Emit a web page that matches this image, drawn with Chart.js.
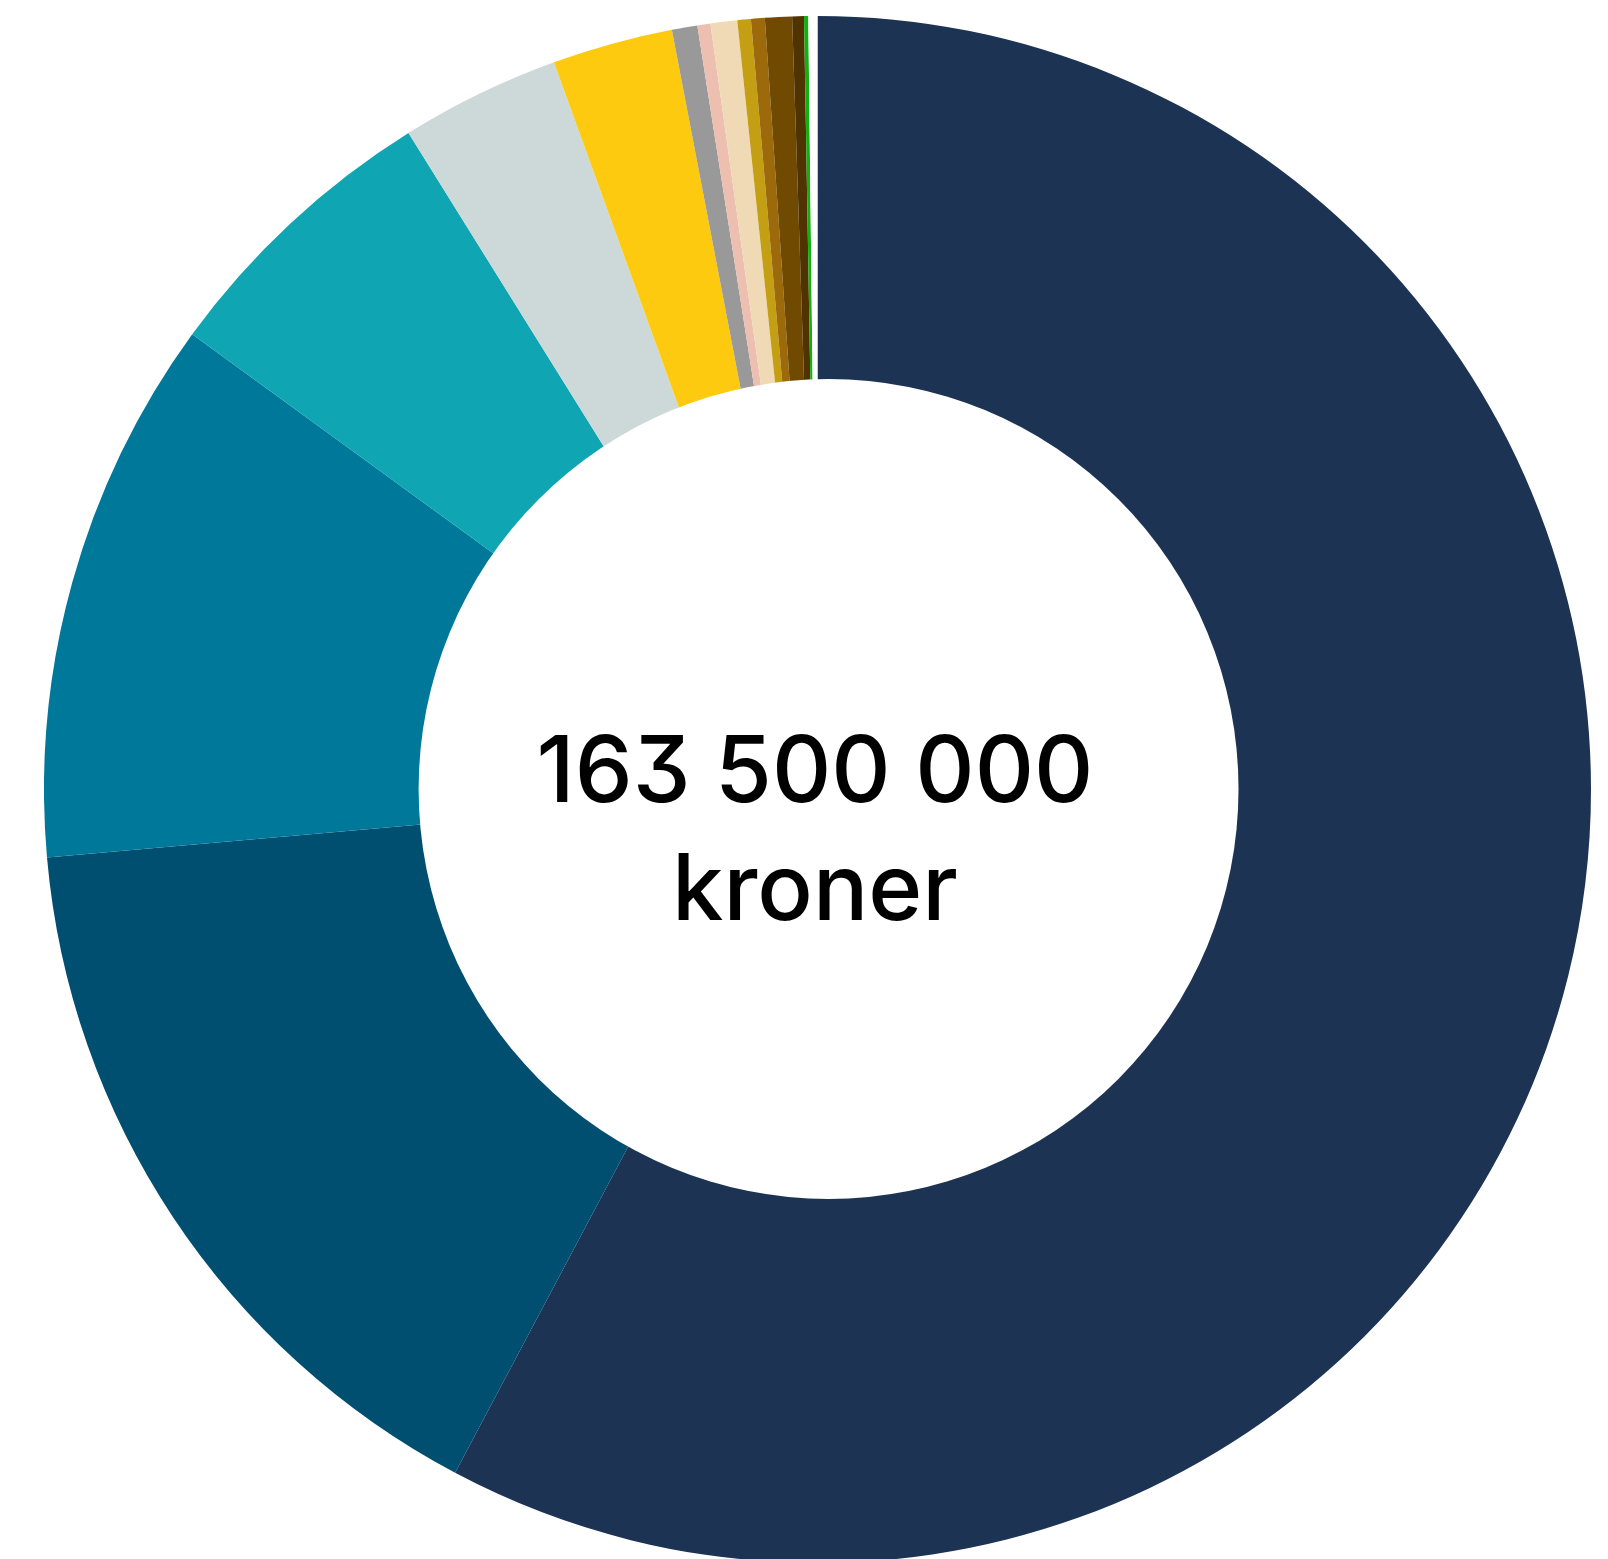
<!DOCTYPE html>
<html lang="no">
<head>
    <meta charset="UTF-8">
    <title>Fordeling</title>
    <style>
        html, body {
            margin: 0;
            padding: 0;
            background: #fff;
            overflow: hidden;
        }
        .chart-container {
            position: absolute;
            left: 44px;
            top: 15.5px;
            width: 1547px;
            height: 1547px;
        }
        .sum-label {
            position: absolute;
            left: 0;
            top: 710px;
            width: 1630px;
            text-align: center;
            font-family: Inter, "Noto Sans", sans-serif;
            font-weight: 500;
            font-size: 92px;
            line-height: 118px;
            font-feature-settings: "cv09";
            color: #000;
        }
    </style>
</head>
<body>
    <div class="chart-container">
        <canvas id="donut"></canvas>
    </div>
    <div class="sum-label">163 500 000<br>kroner</div>

    <script src="https://cdn.jsdelivr.net/npm/chart.js"></script>
    <script>
        // beløp i millioner kroner, lest av figuren
        var categories = ['Post 1', 'Post 2', 'Post 3', 'Post 4', 'Post 5', 'Post 6', 'Post 7', 'Post 8',
            'Post 9', 'Post 10', 'Post 11', 'Post 12', 'Post 13', 'Post 14', 'Post 15'];
        var amounts = [94.45, 25.9, 18.67, 10.0, 5.45, 4.12, 0.87, 0.445, 0.91, 0.46, 0.47, 0.92, 0.40, 0.145, 0.31];
        var colors = ['#1d3354', '#004f71', '#00789a', '#10a5b3', '#ccd9d8', '#fdca10', '#999999', '#ecbfb0',
            '#f0d9b5', '#c49f14', '#9c6a0b', '#704a00', '#4f3300', '#12b012', '#ffffff'];

        // hvit midtflate, litt forskjøvet mot høyre som i originalen
        var holePlugin = {
            id: 'hole',
            afterDatasetsDraw: function(chart) {
                var arc = chart.getDatasetMeta(0).data[0];
                if (!arc) return;
                var R = arc.outerRadius;
                var c = chart.ctx;
                c.save();
                c.fillStyle = '#ffffff';
                c.beginPath();
                c.arc(arc.x + R * 0.0143, arc.y - R * 0.0006, R * 0.530, 0, Math.PI * 2);
                c.fill();
                c.restore();
            }
        };

        var ctx = document.getElementById('donut').getContext('2d');

        var chart = new Chart(ctx, {
            type: 'doughnut',
            data: {
                labels: categories,
                datasets: [{
                    data: amounts,
                    backgroundColor: colors,
                    borderWidth: 0
                }]
            },
            options: {
                responsive: true,
                maintainAspectRatio: false,
                cutout: '50%',
                animation: false,
                plugins: {
                    legend: { display: false },
                    tooltip: { enabled: false }
                }
            },
            plugins: [holePlugin]
        });
    </script>
</body>
</html>
